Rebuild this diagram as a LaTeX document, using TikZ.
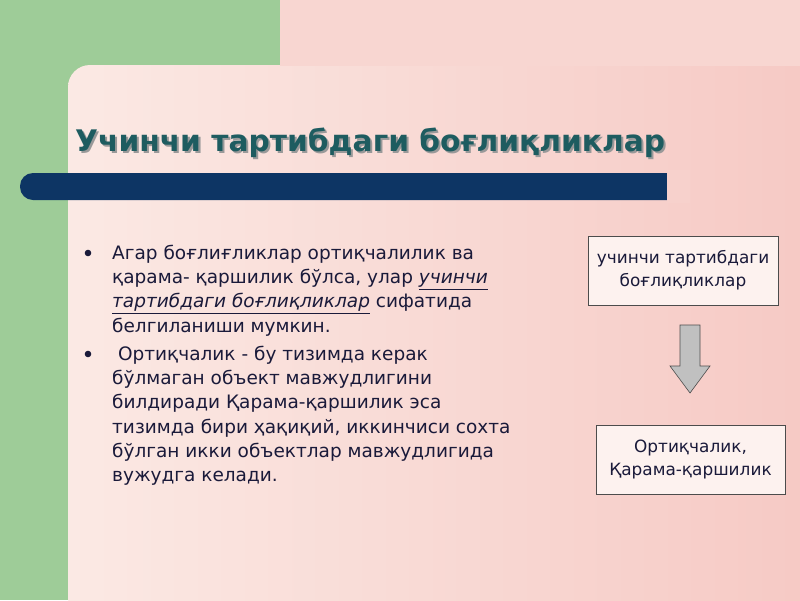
\documentclass[tikz,border=0pt]{standalone}
\usepackage{fontspec}
\setmainfont{DejaVu Sans}
\definecolor{grn}{HTML}{9ECC98}
\definecolor{pinkA}{HTML}{F6C9C4}
\definecolor{pinkB}{HTML}{FBE9E4}
\definecolor{navy}{HTML}{0D3564}
\definecolor{ttl}{HTML}{1E5C60}
\definecolor{txt}{HTML}{1A1A3A}
\definecolor{arr}{HTML}{C0C0C0}
\tikzset{box/.style={draw=black!70,fill=white!40!pinkB,line width=0.6pt,align=center,font=\fontsize{16.9}{23}\selectfont,text=txt,inner sep=0pt},
bul/.style={anchor=north west,align=left,font=\fontsize{18.5}{24.2}\selectfont,text=txt,inner sep=0pt}}
\begin{document}
\begin{tikzpicture}[x=1pt,y=-1pt]
\useasboundingbox (0,0) rectangle (800,600);
\fill[grn] (0,0) rectangle (800,600);
\shade[top color=pinkA,bottom color=pinkB,shading angle=0] (280,0) rectangle (800,600);
\shade[left color=pinkB,right color=pinkA] [rounded corners=22pt] (68,65) -- (68,620) -- (820,620) -- (820,65) -- cycle;
\fill[pinkA!60!pinkB] (280,0) rectangle (800,66);
\node[anchor=west,font=\bfseries\fontsize{29.7}{30}\selectfont,text=black!40,inner sep=0pt] at (77,145) {Учинчи тартибдаги боғлиқликлар};
\node (title)[anchor=west,font=\bfseries\fontsize{29.7}{30}\selectfont,text=ttl,inner sep=0pt] at (75,143) {Учинчи тартибдаги боғлиқликлар};
\fill[navy,rounded corners=13pt] (20,173) rectangle (680,200);
\fill[pinkA!75!pinkB] (667,170) rectangle (690,203);
\node (b1)[bul] at (112,245) {Агар боғлиғликлар ортиқчалилик ва\\қарама- қаршилик бўлса, улар \underline{\itshape учинчи}\\\underline{\itshape тартибдаги боғлиқликлар} сифатида\\белгиланиши мумкин.};
\node (b2)[bul] at (112,346) {\ Ортиқчалик - бу тизимда керак\\бўлмаган объект мавжудлигини\\билдиради Қарама-қаршилик эса\\тизимда бири ҳақиқий, иккинчиси сохта\\бўлган икки объектлар мавжудлигида\\вужудга келади.};
\fill[txt] (88,253) circle (3.3);
\fill[txt] (88,354) circle (3.3);
\node (r1)[box,minimum width=190,minimum height=69] at (683,270.5) {учинчи тартибдаги\\боғлиқликлар};
\node (r2)[box,minimum width=189,minimum height=69] at (690.5,459.5) {Ортиқчалик,\\Қарама-қаршилик};
\draw[black!70,fill=arr,line width=0.6pt] (680,325) -- (700,325) -- (700,366) -- (710,366) -- (690,393) -- (670,366) -- (680,366) -- cycle;
\end{tikzpicture}
\end{document}
